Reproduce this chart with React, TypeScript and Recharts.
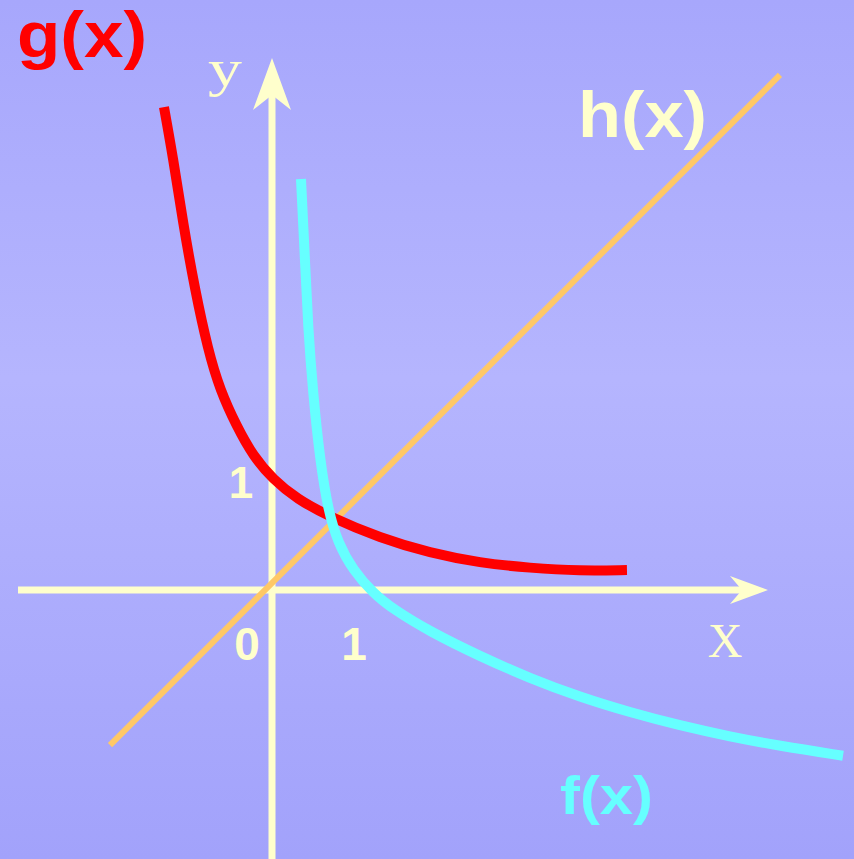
import { LineChart, Line, XAxis, YAxis, ReferenceLine } from "recharts";

// math coordinates, 1 unit ~ 85px, origin at (272, 590)
const gData = [
  { x: -1.271, y: 5.682 },
  { x: -1.165, y: 5.094 },
  { x: -1.047, y: 4.318 },
  { x: -0.906, y: 3.529 },
  { x: -0.753, y: 2.824 },
  { x: -0.612, y: 2.353 },
  { x: -0.412, y: 1.918 },
  { x: -0.224, y: 1.58 },
  { x: 0.012, y: 1.3 },
  { x: 0.294, y: 1.07 },
  { x: 0.682, y: 0.859 },
  { x: 1.271, y: 0.612 },
  { x: 1.859, y: 0.435 },
  { x: 2.447, y: 0.318 },
  { x: 3.035, y: 0.259 },
  { x: 3.624, y: 0.224 },
  { x: 4.176, y: 0.235 },
];

const fData = [
  { x: 0.341, y: 4.835 },
  { x: 0.388, y: 3.882 },
  { x: 0.424, y: 3.094 },
  { x: 0.482, y: 2.318 },
  { x: 0.565, y: 1.529 },
  { x: 0.659, y: 0.941 },
  { x: 0.776, y: 0.553 },
  { x: 0.953, y: 0.235 },
  { x: 1.188, y: -0.035 },
  { x: 1.424, y: -0.225 },
  { x: 1.859, y: -0.49 },
  { x: 2.447, y: -0.78 },
  { x: 3.035, y: -1.04 },
  { x: 3.624, y: -1.26 },
  { x: 4.212, y: -1.44 },
  { x: 4.8, y: -1.595 },
  { x: 5.388, y: -1.725 },
  { x: 5.976, y: -1.835 },
  { x: 6.718, y: -1.95 },
];

const hData = [
  { x: -1.906, y: -1.824 },
  { x: 5.976, y: 6.059 },
];

const xAxisSeg = [
  { x: -2.988, y: 0 },
  { x: 5.835, y: 0 },
];
const yAxisSeg = [
  { x: 0, y: -3.2 },
  { x: 0, y: 6.259 },
];

const xDomain = [-3.2, 6.847];
const yDomain = [-3.165, 6.941];

const CREAM = "#ffffcc";

// line with a notched arrow head at its end
const arrowShape = (back: number, half: number, notch: number) => (props: any) => {
  const { x1, y1, x2, y2 } = props;
  const len = Math.hypot(x2 - x1, y2 - y1) || 1;
  const dx = (x2 - x1) / len;
  const dy = (y2 - y1) / len;
  const nx = -dy;
  const ny = dx;
  const bx = x2 - dx * back;
  const by = y2 - dy * back;
  const mx = x2 - dx * notch;
  const my = y2 - dy * notch;
  const pts = [
    [x2, y2],
    [bx + nx * half, by + ny * half],
    [mx, my],
    [bx - nx * half, by - ny * half],
  ]
    .map((p) => p.join(","))
    .join(" ");
  return (
    <g>
      <line x1={x1} y1={y1} x2={mx + dx * 2} y2={my + dy * 2} stroke={CREAM} strokeWidth={7} />
      <polygon points={pts} fill={CREAM} />
    </g>
  );
};

const bold = '"Liberation Sans", Arial, Helvetica, sans-serif';
const serif = '"Liberation Serif", "Times New Roman", serif';

export default function App() {
  return (
    <div
      style={{
        position: "absolute",
        left: 0,
        top: 0,
        width: 854,
        height: 859,
        background: "linear-gradient(to bottom, #a7a7fc 0%, #b5b5fe 44%, #a2a2fb 100%)",
        overflow: "hidden",
      }}
    >
      <LineChart width={854} height={859} margin={{ top: 0, right: 0, bottom: 0, left: 0 }}>
        <XAxis type="number" dataKey="x" domain={xDomain} allowDataOverflow hide />
        <YAxis type="number" dataKey="y" domain={yDomain} allowDataOverflow hide />
        <ReferenceLine segment={xAxisSeg} ifOverflow="visible" shape={arrowShape(38, 14, 26)} />
        <ReferenceLine segment={yAxisSeg} ifOverflow="visible" shape={arrowShape(52, 19, 37)} />
        <Line
          data={hData}
          dataKey="y"
          type="linear"
          stroke="#ffc866"
          strokeWidth={6}
          dot={false}
          activeDot={false}
          isAnimationActive={false}
        />
        <Line
          data={gData}
          dataKey="y"
          type="basis"
          stroke="#ff0000"
          strokeWidth={10}
          dot={false}
          activeDot={false}
          isAnimationActive={false}
        />
        <Line
          data={fData}
          dataKey="y"
          type="basis"
          stroke="#66ffff"
          strokeWidth={10}
          dot={false}
          activeDot={false}
          isAnimationActive={false}
        />
      </LineChart>
      <svg
        width={854}
        height={859}
        style={{ position: "absolute", left: 0, top: 0, pointerEvents: "none" }}
      >
        <text x={17} y={57} fontFamily={bold} fontWeight="bold" fontSize={64} fill="#ff0000" textLength={130} lengthAdjust="spacingAndGlyphs">
          g(x)
        </text>
        <text x={578} y={137} fontFamily={bold} fontWeight="bold" fontSize={64} fill={CREAM} textLength={129} lengthAdjust="spacingAndGlyphs">
          h(x)
        </text>
        <text x={560} y={814} fontFamily={bold} fontWeight="bold" fontSize={53} fill="#66ffff" textLength={93} lengthAdjust="spacingAndGlyphs">
          f(x)
        </text>
        <text x={225} y={86} fontFamily={serif} fontSize={52} fill={CREAM} textAnchor="middle" textLength={34} lengthAdjust="spacingAndGlyphs">
          y
        </text>
        <text x={725} y={657} fontFamily={serif} fontSize={48} fill={CREAM} textAnchor="middle">
          X
        </text>
        <text x={241} y={498} fontFamily={bold} fontWeight="bold" fontSize={44} fill={CREAM} textAnchor="middle">
          1
        </text>
        <text x={247} y={660} fontFamily={bold} fontWeight="bold" fontSize={46} fill={CREAM} textAnchor="middle">
          0
        </text>
        <text x={354} y={660} fontFamily={bold} fontWeight="bold" fontSize={46} fill={CREAM} textAnchor="middle">
          1
        </text>
      </svg>
    </div>
  );
}
